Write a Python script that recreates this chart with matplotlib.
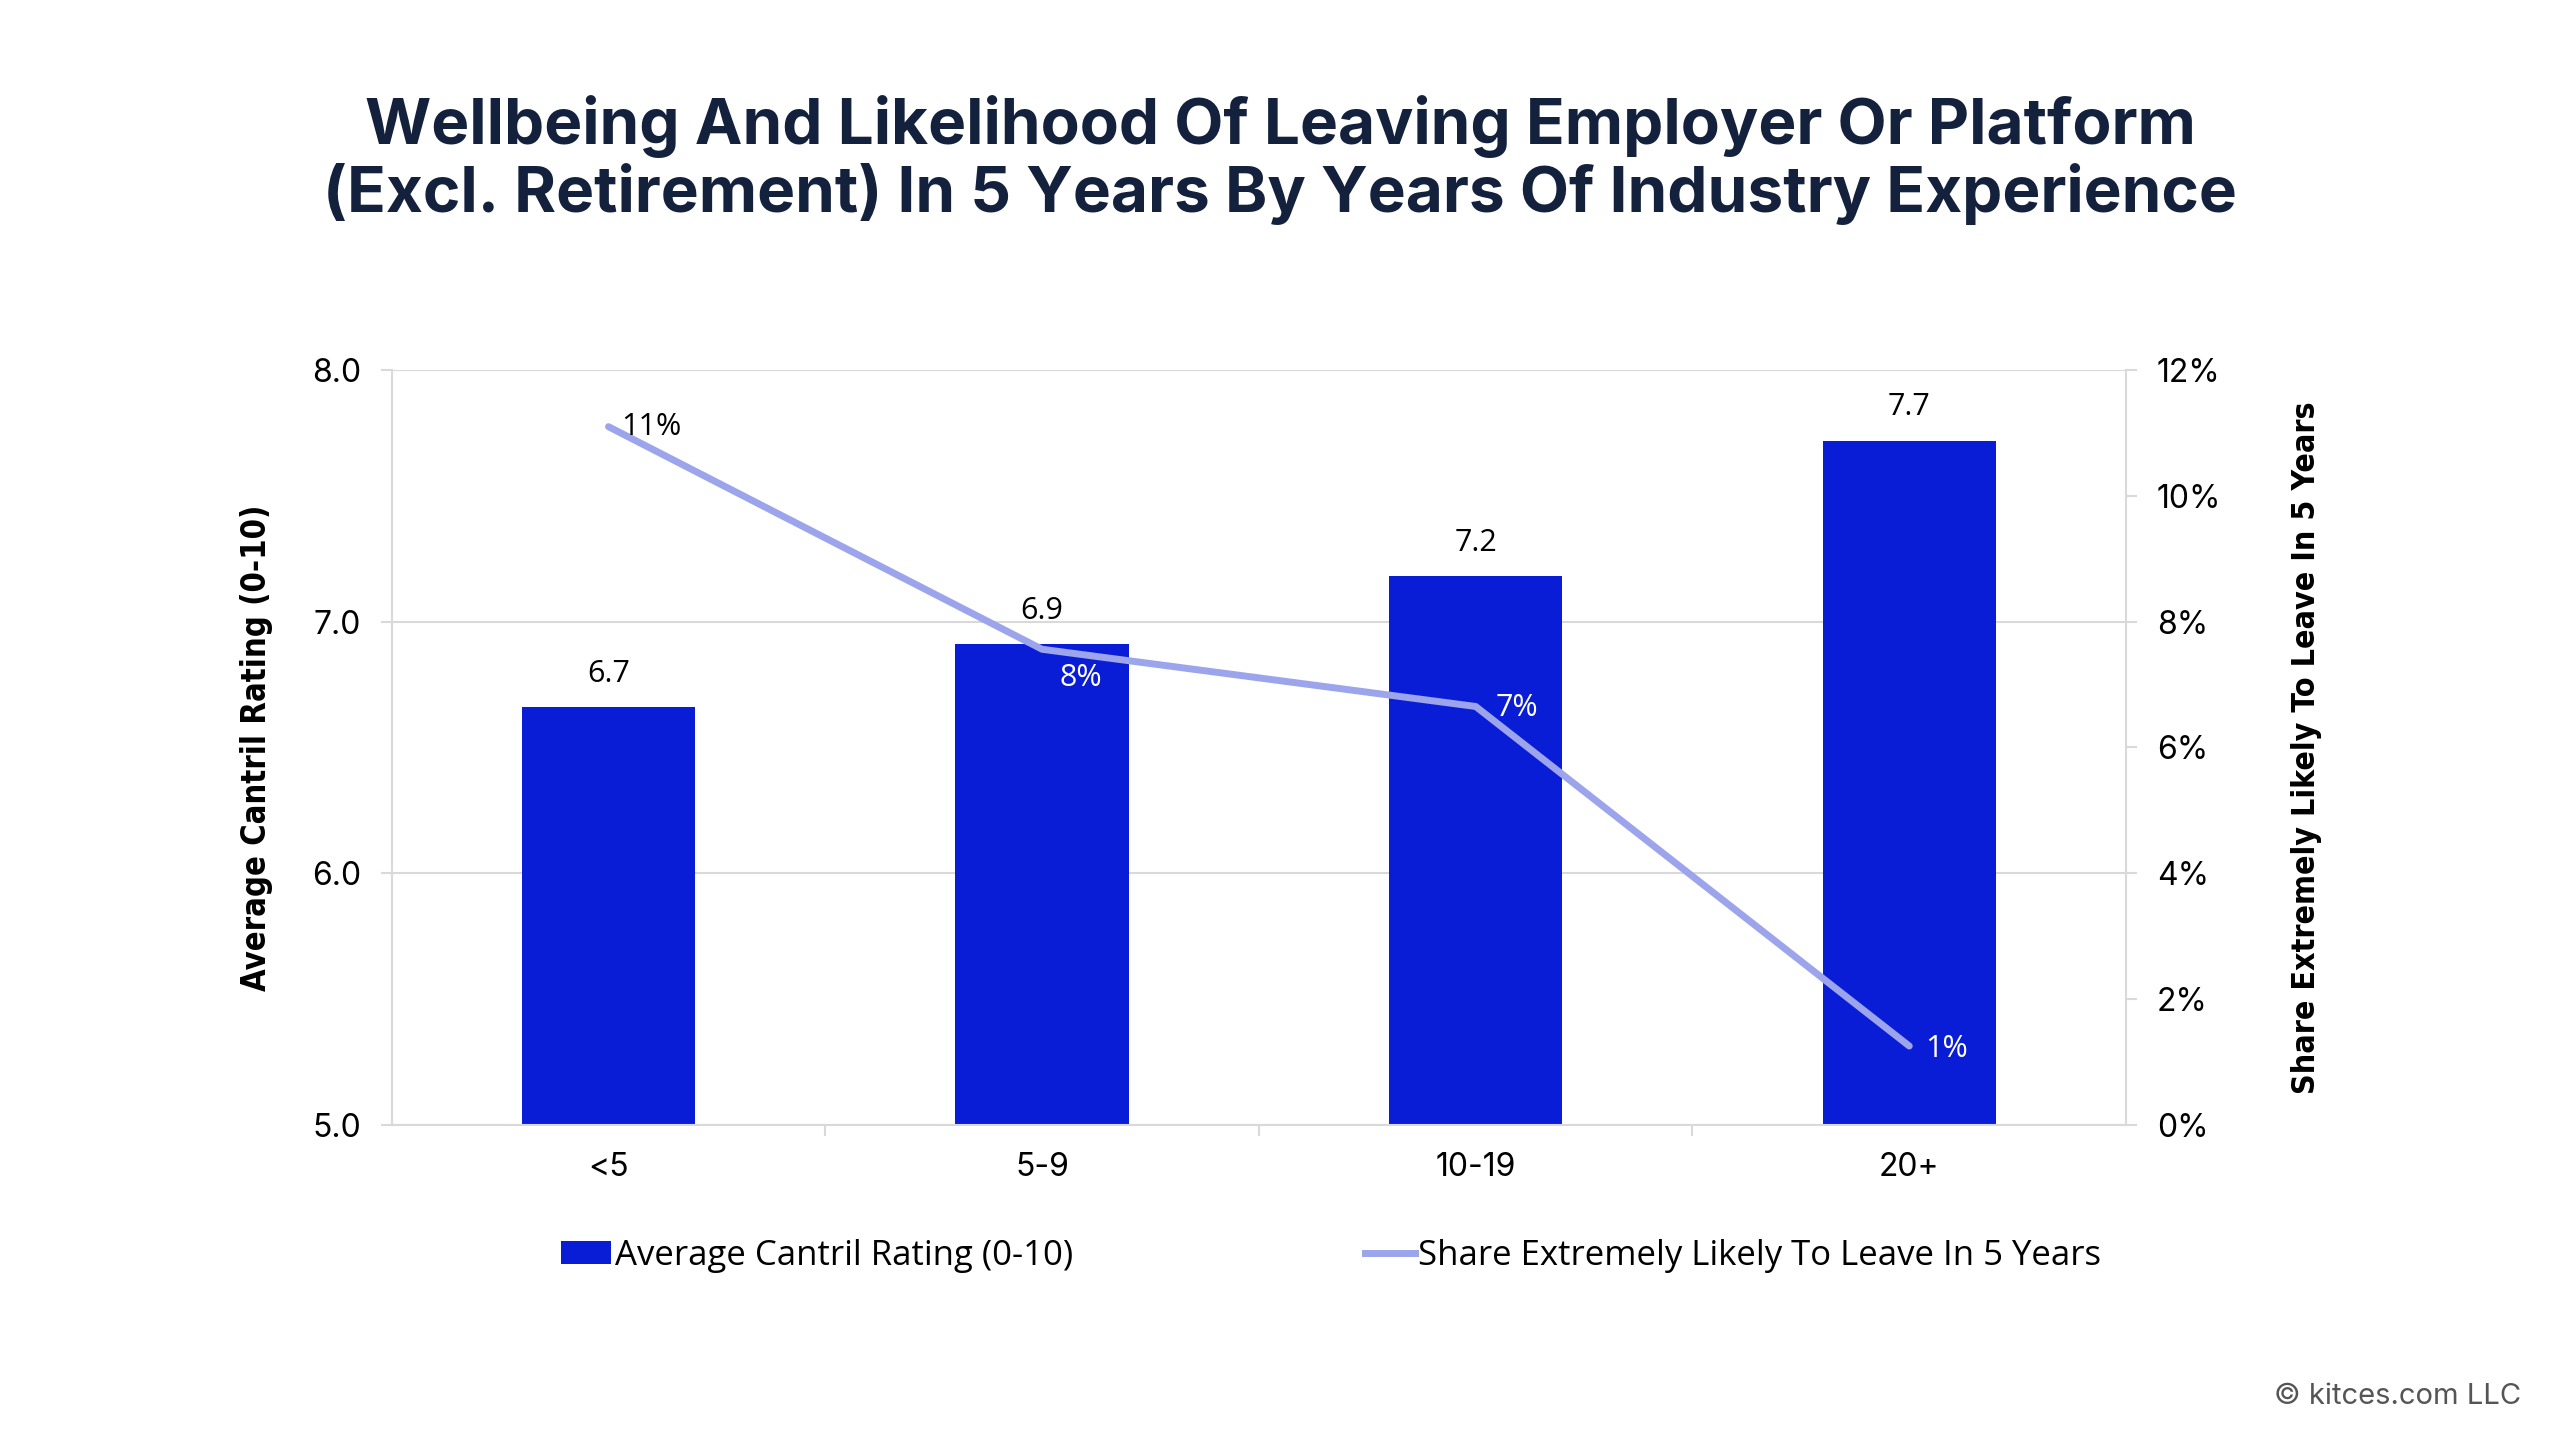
import matplotlib
matplotlib.use("Agg")
import matplotlib.pyplot as plt
from matplotlib.patches import Patch
from matplotlib.lines import Line2D

categories = ["<5", "5-9", "10-19", "20+"]
cantril = [6.66, 6.91, 7.18, 7.72]
cantril_labels = ["6.7", "6.9", "7.2", "7.7"]
share_leave = [11.1, 7.56, 6.65, 1.25]
share_labels = ["11%", "8%", "7%", "1%"]

BAR_COLOR = "#0A1DD6"
LINE_COLOR = "#9CA4EB"
GRID_COLOR = "#D9D9D9"
TITLE_COLOR = "#14213D"

fig = plt.figure(figsize=(25.6, 14.4), dpi=100)
ax = fig.add_axes([0.153, 0.219, 0.6775, 0.524])
ax2 = ax.twinx()

x = list(range(len(categories)))
ax.bar(x, cantril, width=0.4, color=BAR_COLOR, zorder=2)
ax.set_ylim(5, 8)
ax.set_xlim(-0.5, 3.5)
ax.set_yticks([5, 6, 7, 8])
ax.set_yticklabels(["5.0", "6.0", "7.0", "8.0"])
ax.set_xticks(x)
ax.set_xticklabels(categories)
ax.set_xticks([0.5, 1.5, 2.5], minor=True)
ax.tick_params(axis="x", which="major", length=0, pad=20)
ax.tick_params(axis="x", which="minor", length=8, color=GRID_COLOR, width=1.5)
ax.tick_params(axis="y", length=8, color=GRID_COLOR, width=1.5, pad=14)
ax.grid(axis="y", color=GRID_COLOR, linewidth=1.5, zorder=0)
ax.set_axisbelow(True)
for s in ["left", "bottom"]:
    ax.spines[s].set_color(GRID_COLOR)
    ax.spines[s].set_linewidth(1.5)
for s in ["top", "right"]:
    ax.spines[s].set_visible(False)

for lbl in ax.get_xticklabels() + ax.get_yticklabels():
    lbl.set_fontfamily("Inter")
    lbl.set_fontsize(23)

for xi, v, t in zip(x, cantril, cantril_labels):
    ax.annotate(t, (xi, v), xytext=(0, 24), textcoords="offset points",
                ha="center", va="center", fontsize=22, family="Open Sans", color="black")

ax2.plot(x, share_leave, color=LINE_COLOR, linewidth=5, solid_capstyle="round",
         solid_joinstyle="round", zorder=3)
ax2.set_ylim(0, 12)
ax2.set_yticks([0, 2, 4, 6, 8, 10, 12])
ax2.set_yticklabels([f"{v}%" for v in [0, 2, 4, 6, 8, 10, 12]])
ax2.tick_params(axis="y", length=8, color=GRID_COLOR, width=1.5, pad=14)
for s in ["top", "left", "bottom"]:
    ax2.spines[s].set_visible(False)
ax2.spines["right"].set_color(GRID_COLOR)
ax2.spines["right"].set_linewidth(1.5)
for lbl in ax2.get_yticklabels():
    lbl.set_fontfamily("Inter")
    lbl.set_fontsize(23)

offsets = [(31, 0), (28, -21), (30, -1), (27, -2)]
colors = ["black", "white", "white", "white"]
for xi, v, t, off, c in zip(x, share_leave, share_labels, offsets, colors):
    ax2.annotate(t, (xi, v), xytext=off, textcoords="offset points",
                 ha="center", va="center", fontsize=22, family="Open Sans", color=c)

narrow = ["Liberation Sans Narrow", "DejaVu Sans"]
ax.set_ylabel("Average Cantril Rating (0-10)", fontsize=23.5, fontweight="bold",
              family=narrow, fontstretch="condensed", labelpad=28)
ax2.set_ylabel("Share Extremely Likely To Leave In 5 Years", fontsize=23,
               fontweight="bold", family=narrow, fontstretch="condensed", labelpad=50)

fig.text(0.5, 0.889,
         "Wellbeing And Likelihood Of Leaving Employer Or Platform\n"
         "(Excl. Retirement) In 5 Years By Years Of Industry Experience",
         ha="center", va="center", fontsize=46, fontweight="bold",
         family="Inter", color=TITLE_COLOR, linespacing=1.1)

handles = [Patch(facecolor=BAR_COLOR), Line2D([0], [0], color=LINE_COLOR, linewidth=5)]
leg = fig.legend(handles, ["Average Cantril Rating (0-10)",
                           "Share Extremely Likely To Leave In 5 Years"],
                 loc="center", bbox_to_anchor=(0.52, 0.128), ncol=2, frameon=False,
                 prop={"family": "Open Sans", "size": 25}, handlelength=1.45,
                 handleheight=0.65, handletextpad=0.1, columnspacing=8.4)

fig.text(0.985, 0.03, "© kitces.com LLC", ha="right", va="center",
         fontsize=21, family="Inter", color="#555555")

fig.savefig("out.png", dpi=100, facecolor="white")
